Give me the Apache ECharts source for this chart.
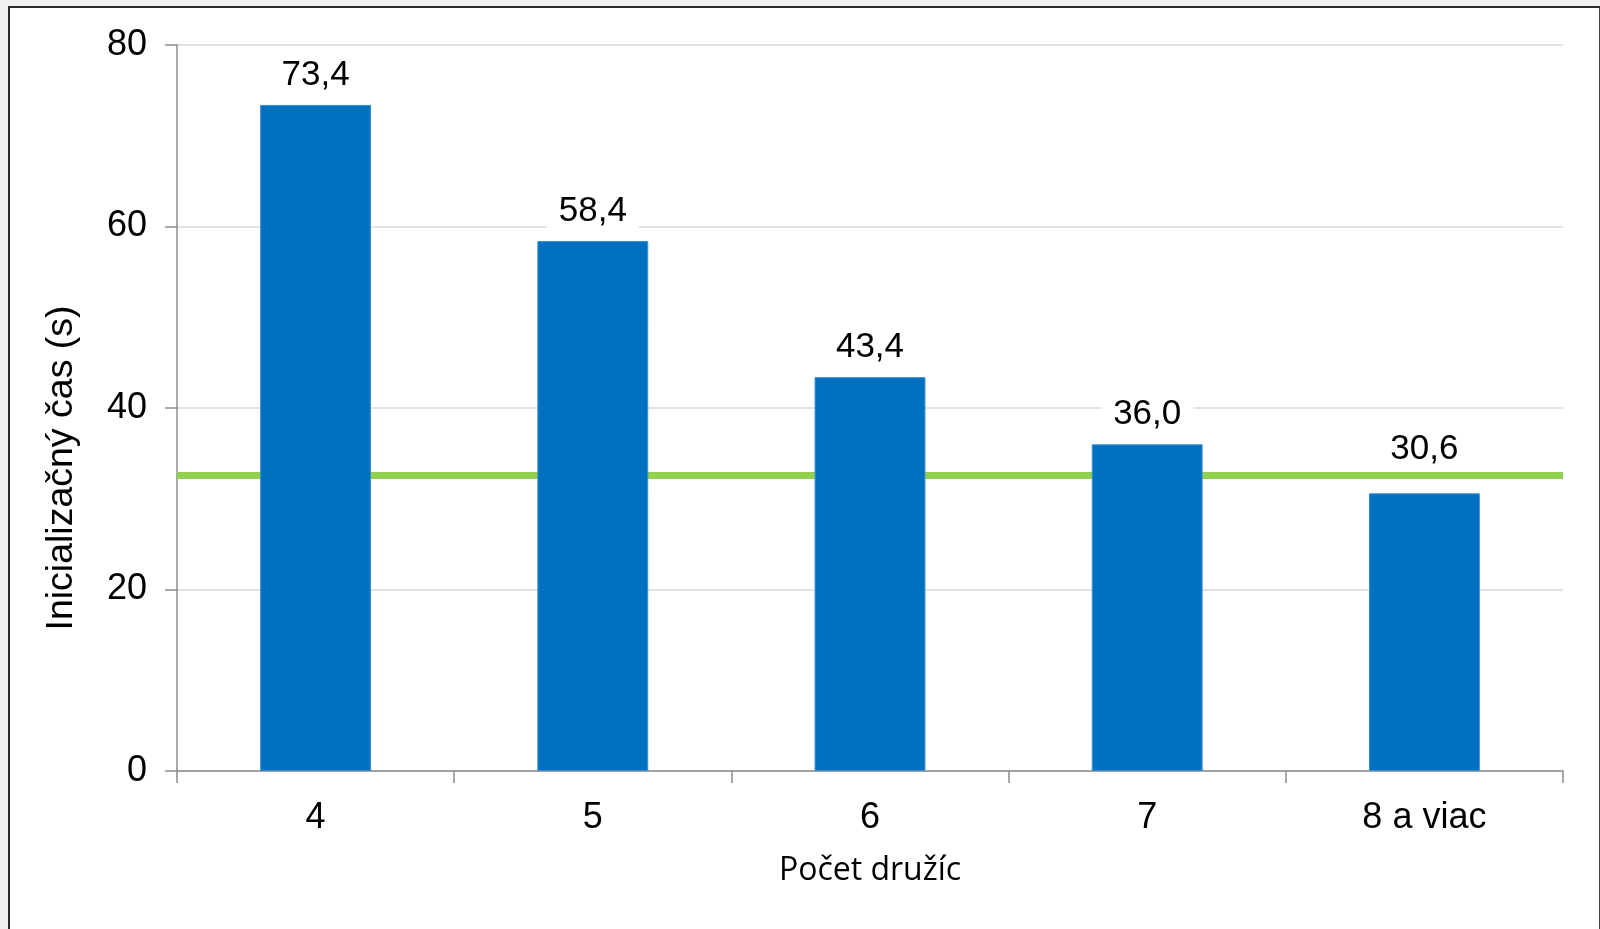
<!DOCTYPE html>
<html>
<head>
<meta charset="utf-8">
<script src="https://cdn.jsdelivr.net/npm/echarts@6/dist/echarts.min.js"></script>
<style>
  html, body { margin: 0; padding: 0; background: #f0f0f0; width: 1600px; height: 929px; overflow: hidden; }
  #frame { position: absolute; left: 8px; top: 6px; width: 1589px; height: 940px; background: #fff;
           border-top: 2px solid #2a2a2a; border-left: 2px solid #2a2a2a; border-right: 2px solid #444; }
  #chart { position: absolute; left: 0; top: 0; width: 1600px; height: 929px; }
</style>
</head>
<body>
<div id="frame"></div>
<div id="chart"></div>
<script>
const categories = ['4', '5', '6', '7', '8 a viac'];
const values = [73.4, 58.4, 43.4, 36.0, 30.6];
const referenceLevel = [32.6];
const yTicks = { min: 0, max: 80, interval: 20 };
const xAxisTitle = 'Počet družíc';
const yAxisTitle = 'Inicializačný čas (s)';

// labels whose bar top lies below the reference line are lifted above the line
const barData = values.map(v => v < referenceLevel[0]
  ? { value: v, label: { offset: [0, -14] } }
  : v);

const chart = echarts.init(document.getElementById('chart'), null, { renderer: 'canvas' });
chart.setOption({
  animation: false,
  backgroundColor: 'transparent',
  grid: { left: 177, right: 37, top: 45, bottom: 158, containLabel: false },
  xAxis: {
    type: 'category',
    data: categories,
    name: xAxisTitle,
    nameLocation: 'middle',
    nameGap: 84,
    nameTextStyle: { fontFamily: 'Open Sans', fontSize: 32, color: '#000' },
    axisLine: { lineStyle: { color: '#8c8c8c', width: 1.5 } },
    axisTick: { show: true, length: 12, lineStyle: { color: '#8c8c8c', width: 1.5 } },
    axisLabel: { fontFamily: 'Liberation Sans', fontSize: 36, color: '#000', margin: 29 },
    splitLine: { show: false }
  },
  yAxis: {
    type: 'value',
    min: yTicks.min, max: yTicks.max, interval: yTicks.interval,
    name: yAxisTitle,
    nameLocation: 'middle',
    nameGap: 96,
    nameTextStyle: { fontFamily: 'Liberation Sans', fontSize: 37.5, color: '#000', padding: [0, 120, 0, 0] },
    axisLine: { show: true, lineStyle: { color: '#8c8c8c', width: 1.5 } },
    axisTick: { show: true, length: 12, lineStyle: { color: '#8c8c8c', width: 1.5 } },
    axisLabel: { fontFamily: 'Liberation Sans', fontSize: 36, color: '#000', margin: 30 },
    splitLine: { show: true, lineStyle: { color: '#d9d9d9', width: 1.5 } }
  },
  series: [{
    type: 'bar',
    data: barData,
    barWidth: '40%',
    z: 2,
    itemStyle: { color: '#0070C0', borderColor: '#3a8fd4', borderWidth: 1 },
    label: {
      show: true,
      position: 'top',
      distance: 12,
      fontFamily: 'Liberation Sans',
      fontSize: 35,
      color: '#000',
      backgroundColor: '#fff',
      padding: [12, 12, 0, 12],
      formatter: p => p.value.toFixed(1).replace('.', ',')
    },
    markLine: {
      z: 1,
      silent: true,
      symbol: ['none', 'none'],
      label: { show: false },
      lineStyle: { color: '#92D050', width: 7, type: 'solid' },
      data: referenceLevel.map(v => ({ yAxis: v }))
    }
  }]
});
</script>
</body>
</html>
